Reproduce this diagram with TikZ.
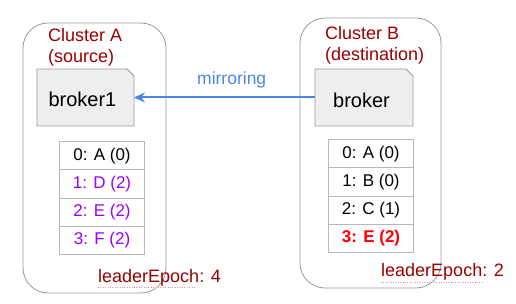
\documentclass[tikz,border=0pt]{standalone}
\usepackage{fontspec}
\setmainfont{Liberation Sans}
\usetikzlibrary{arrows.meta}
\definecolor{dred}{HTML}{990000}
\definecolor{cgray}{HTML}{999999}
\definecolor{tgray}{HTML}{B7B7B7}
\definecolor{bfill}{HTML}{EEEEEE}
\definecolor{mblue}{HTML}{4A86E8}
\definecolor{purp}{HTML}{9900FF}
\definecolor{bred}{HTML}{FF0000}
\tikzset{
  cluster/.style={draw=cgray, line width=0.8pt, rounded corners=25pt},
  clabel/.style={anchor=base west, inner sep=0pt, text=dred, font=\fontsize{18}{20}\selectfont},
  btext/.style={anchor=base west, inner sep=0pt, font=\fontsize{20}{22}\selectfont},
  cell/.style={draw=tgray, line width=1pt, minimum width=85pt, minimum height=28.3pt, inner sep=0pt, font=\fontsize{17}{19}\selectfont, anchor=north west},
  squig/.style={draw=red!45, line width=0.4pt, dotted},
}
\begin{document}
\begin{tikzpicture}[x=1pt,y=-1pt]
\useasboundingbox (0,0) rectangle (516,304);
% clusters
\draw[cluster] (23,23) rectangle (166,293);
\draw[cluster] (300,18) rectangle (441,288);
\node[clabel] (ca1) at (48,42) {Cluster A};
\node[clabel] (ca2) at (48,63) {(source)};
\node[clabel] (cb1) at (325,39.5) {Cluster B};
\node[clabel] (cb2) at (325,61) {(destination)};
% brokers
\filldraw[fill=bfill, draw=cgray, line width=0.8pt] (37,69) -- (127,69) -- (134,76) -- (134,126) -- (37,126) -- cycle;
\filldraw[fill=bfill, draw=cgray, line width=0.8pt] (315,69) -- (406,69) -- (413,76) -- (413,126) -- (315,126) -- cycle;
\coordinate (b1e) at (134,97.5);
\coordinate (b2w) at (315,97.5);
\node[btext] (b1) at (48.3,106.7) {broker1};
\node[btext] (b2) at (333,107.3) {broker};
% arrow
\draw[mblue, line width=2pt, -{Stealth[length=11pt,width=10pt]}] (b2w) -- (b1e);
\node[anchor=base west, inner sep=0pt, text=mblue, font=\fontsize{17.5}{19}\selectfont] (mir) at (197,85) {mirroring};
% table A
\node[cell] (a0) at (59,141) {0: A (0)};
\node[cell, text=purp] (a1) at (59,169.3) {1: D (2)};
\node[cell, text=purp] (a2) at (59,197.6) {2: E (2)};
\node[cell, text=purp] (a3) at (59,225.9) {3: F (2)};
% table B
\node[cell] (t0) at (328,139) {0: A (0)};
\node[cell] (t1) at (328,167.3) {1: B (0)};
\node[cell] (t2) at (328,195.6) {2: C (1)};
\node[cell, text=bred, font=\fontsize{17}{19}\selectfont\bfseries] (t3) at (328,223.9) {3: E (2)};
% leader epochs
\node[clabel] (la) at (98,282) {leaderEpoch: 4};
\node[clabel] (lb) at (381,276.7) {leaderEpoch: 2};
\draw[squig] (98,287) -- (196,287);
\draw[squig] (381,282) -- (482,282);
\end{tikzpicture}
\end{document}
